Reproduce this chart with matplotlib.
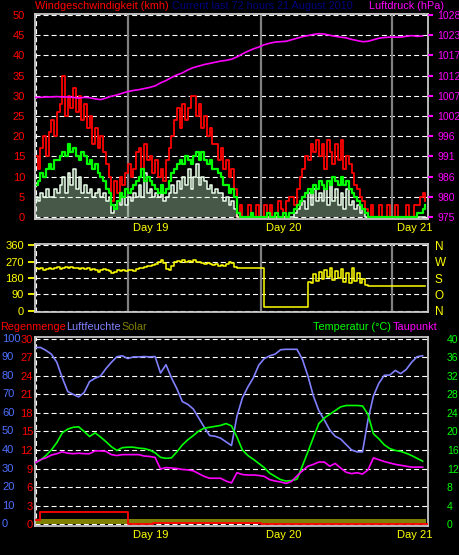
import numpy as np
import matplotlib
matplotlib.use("Agg")
import matplotlib.pyplot as plt
from matplotlib import transforms

plt.rcParams['font.family'] = ['Liberation Sans', 'DejaVu Sans']
plt.rcParams['font.size'] = 7.5
plt.rcParams['lines.scale_dashes'] = False

# ---- wind, every 30 min (kmh), hour 0 = start of the 72 h window
gust = [15, 12, 17, 20, 15, 21, 24, 20, 26, 28, 35, 25,
        30, 27, 32, 26, 30, 24, 28, 22, 25, 18, 22, 17,
        20, 16, 13, 10, 4, 9, 6, 10, 8, 11, 13, 10,
        12, 16, 17, 12, 18, 14, 15, 11, 14, 10, 12, 9,
        14, 17, 20, 24, 27, 22, 28, 24, 27, 30, 30, 25,
        28, 22, 25, 20, 22, 18, 18, 14, 17, 12, 14, 10,
        12, 7, 0, 3, 0, 0, 3, 0, 0, 3, 0, 0,
        3, 0, 3, 0, 0, 4, 2, 0, 4, 5, 5, 3,
        7, 10, 12, 15, 14, 18, 16, 19, 15, 18, 12, 19,
        16, 13, 18, 14, 19, 12, 15, 13, 11, 8, 7, 5,
        4, 2, 0, 3, 0, 0, 3, 0, 0, 3, 0, 0,
        3, 0, 0, 0, 3, 0, 0, 3, 3, 5, 6, 4]
avg = [8, 9, 11, 10, 12, 13, 12, 14, 14, 15, 16, 15,
       18, 16, 17, 15, 14, 16, 15, 13, 14, 12, 13, 11,
       10, 9, 7, 6, 3, 2, 4, 6, 5, 7, 6, 7,
       8, 9, 10, 12, 9, 10, 9, 8, 7, 6, 8, 6,
       7, 9, 11, 12, 13, 14, 13, 15, 14, 13, 15, 16,
       14, 16, 14, 13, 14, 12, 12, 11, 10, 8, 8, 6,
       7, 5, 1, 0, 0, 0, 0, 1, 0, 0, 0, 0,
       0, 1, 0, 0, 1, 0, 0, 1, 0, 1, 1, 2,
       3, 4, 5, 6, 7, 6, 8, 7, 9, 8, 7, 9,
       8, 10, 9, 8, 10, 8, 9, 7, 6, 5, 4, 3,
       2, 1, 0, 0, 0, 0, 0, 0, 0, 0, 0, 0,
       0, 0, 0, 0, 0, 0, 0, 0, 1, 1, 2, 3]
speed = [5, 4, 6, 5, 7, 5, 5, 7, 6, 8, 10, 6,
         11, 8, 12, 7, 10, 6, 8, 6, 7, 5, 6, 7,
         5, 6, 4, 5, 1, 3, 4, 3, 5, 3, 5, 4,
         6, 5, 8, 5, 11, 6, 7, 5, 6, 5, 7, 4,
         5, 6, 8, 6, 9, 7, 10, 8, 12, 7, 10, 13,
         8, 10, 9, 7, 8, 6, 7, 6, 6, 4, 5, 3,
         4, 2, 0, 0, 0, 0, 0, 0, 0, 0, 0, 0,
         0, 0, 0, 0, 0, 0, 0, 0, 0, 0, 0, 1,
         2, 3, 4, 2, 6, 3, 7, 4, 6, 4, 7, 3,
         8, 4, 7, 3, 6, 2, 7, 3, 4, 2, 3, 1,
         2, 0, 0, 0, 0, 0, 0, 0, 0, 0, 0, 0,
         0, 0, 0, 0, 0, 0, 0, 0, 0, 0, 0, 0]
direction = [232, 228, 234, 226, 230, 236, 228, 233, 238, 231, 236, 240,
             234, 238, 233, 237, 231, 236, 229, 233, 226, 230, 222, 214,
             226, 230, 223, 218, 205, 212, 222, 216, 225, 220, 222, 226,
             218, 228, 232, 236, 238, 244, 246, 250, 258, 268, 280, 262,
             230, 226, 245, 268, 272, 270, 276, 268, 274, 270, 278, 266,
             270, 262, 258, 262, 254, 250, 256, 248, 252, 246, 258, 266,
             262, 242, 236, 236, 236, 236, 236, 236, 236, 236, 236, 236,
             20, 20, 20, 20, 20, 20, 20, 20, 20, 20, 20, 20,
             20, 20, 20, 20, 160, 150, 200, 165, 215, 175, 225, 185,
             235, 170, 220, 180, 230, 160, 210, 150, 235, 165, 205, 150,
             175, 140, 135, 135, 135, 135, 135, 135, 135, 135, 135, 135,
             135, 135, 135, 135, 135, 135, 135, 135, 135, 135, 135, 135]

# ---- hourly values
pressure = [1006.4, 1006.4, 1006.5, 1006.5, 1006.6, 1006.5, 1006.5, 1006.4, 1006.2, 1006.4,
            1006.3, 1006.0, 1005.8, 1006.2, 1006.7, 1007.0, 1007.5, 1007.9, 1008.2, 1008.4,
            1008.7, 1009.0, 1009.4, 1010.2, 1010.8, 1011.6, 1012.3, 1012.8, 1013.6, 1014.2,
            1014.6, 1015.0, 1015.3, 1015.6, 1015.9, 1016.1, 1016.4, 1017.0, 1017.8, 1018.5,
            1019.1, 1019.6, 1020.2, 1020.6, 1020.9, 1021.0, 1021.1, 1021.5, 1021.9, 1022.3,
            1022.6, 1022.9, 1023.1, 1023.0, 1022.7, 1022.4, 1022.2, 1022.0, 1021.6, 1021.3,
            1021.0, 1021.1, 1021.5, 1021.9, 1022.1, 1022.2, 1022.2, 1022.2, 1022.4, 1022.6,
            1022.4, 1022.5]
humidity = [95.3, 95.3, 93.7, 91.7, 87.3, 78.9, 71.5, 70.0, 68.6, 71.0,
            76.9, 78.7, 79.9, 83.9, 87.3, 90.3, 90.8, 89.3, 90.2, 90.2,
            90.4, 90.2, 90.4, 81.5, 86.0, 78.9, 73.0, 66.1, 64.6, 62.1,
            57.2, 52.3, 47.8, 47.4, 46.4, 44.4, 42.4, 58.2, 68.1, 74.0,
            78.9, 85.8, 89.3, 90.8, 91.7, 94.1, 94.3, 94.3, 94.3, 88.8,
            79.9, 69.1, 61.2, 56.2, 50.8, 47.4, 45.9, 42.9, 40.0, 39.0,
            39.0, 56.2, 69.1, 76.0, 80.3, 80.4, 82.9, 81.2, 83.4, 87.3,
            90.3, 90.8]
temperature = [13.2, 13.8, 14.8, 16.0, 17.6, 19.7, 20.5, 20.9, 21.0, 20.0,
               18.9, 19.7, 18.8, 17.8, 16.7, 15.9, 16.5, 16.6, 16.6, 16.4,
               16.3, 16.0, 15.4, 14.4, 14.2, 14.3, 15.6, 17.1, 18.2, 19.1,
               20.1, 20.7, 20.9, 21.1, 21.3, 21.7, 21.2, 18.8, 16.0, 14.8,
               14.0, 13.1, 12.2, 11.0, 10.3, 9.6, 9.3, 9.4, 9.7, 12.6,
               15.6, 18.7, 21.7, 22.9, 23.7, 24.5, 25.3, 25.6, 25.6, 25.6,
               25.5, 23.7, 19.5, 18.4, 17.1, 16.3, 15.9, 15.7, 15.3, 14.8,
               14.2, 13.6]
dewpoint = [13.2, 13.9, 14.3, 14.9, 15.2, 15.6, 15.3, 15.2, 15.3, 15.2,
            15.2, 15.8, 15.8, 15.7, 15.0, 14.8, 15.0, 15.0, 15.0, 15.0,
            14.7, 14.6, 14.4, 11.9, 12.2, 12.1, 12.0, 11.8, 11.7, 11.5,
            10.9, 10.3, 9.9, 9.9, 9.9, 9.3, 8.9, 11.1, 10.7, 10.6,
            10.6, 10.5, 10.3, 9.6, 9.3, 9.1, 8.8, 9.2, 10.4, 11.5,
            12.5, 12.9, 13.4, 13.4, 12.5, 13.1, 12.1, 11.2, 10.9, 11.1,
            10.8, 11.7, 14.3, 13.9, 13.5, 13.2, 12.9, 12.7, 12.5, 12.3,
            12.3, 12.3]

# daily rain sum (mm) and solar band
rain_hours = [0, 0.9, 17.0, 21.6, 41.4, 72]
rain = [0.6, 2.0, 0.0, 0.2, 0.0, 0.0]
solar_hours = [0, 71.6]
solar = [2.6, 2.6]

day_hours = [17.0, 41.4, 65.4]
day_labels = ['Day 19', 'Day 20', 'Day 21']
pressure_ticks = ['975', '980', '986', '991', '996', '1002', '1007', '1012', '1017', '1023', '1028']
compass = ['N', 'O', 'S', 'W', 'N']

t_half = np.arange(len(gust)) * 0.5
t_hour = np.arange(len(pressure))

W, H = 460, 555
DASH = (0, (3.6, 2.2))


def box(x0, y0, x1, y1):
    return [x0 / W, 1 - y1 / H, (x1 - x0) / W, (y1 - y0) / H]


def frame(ax, ylim, grid):
    ax.set_facecolor('black')
    ax.set_xlim(0, 72)
    ax.set_ylim(*ylim)
    ax.set_xticks([])
    for s in ax.spines.values():
        s.set_color('#c8c8c8')
        s.set_linewidth(1.3)
    for g in grid:
        ax.axhline(g, color='white', lw=0.8, ls=DASH, zorder=0.5)
    ax.axvline(0.27, color='white', lw=0.8, ls=DASH, zorder=0.5)


def twin(ax, ylim):
    tw = ax.twinx()
    tw.set_xlim(0, 72)
    tw.set_ylim(*ylim)
    for s in tw.spines.values():
        s.set_visible(False)
    return tw


def days(ax, lines=True, labels=True):
    tr = transforms.offset_copy(
        transforms.blended_transform_factory(ax.transData, ax.transAxes),
        fig=fig, x=5, y=-4, units='dots')
    for d, lab in zip(day_hours, day_labels):
        if lines:
            ax.axvline(d, color='#808080', lw=1.6, zorder=0.8)
        if labels:
            ax.text(d, 0, lab, transform=tr, color='yellow', ha='left', va='top', fontsize=8)


fig = plt.figure(figsize=(W / 100, H / 100), dpi=100, facecolor='black')

# ---------------- wind speed + pressure
ax1 = fig.add_axes(box(35, 14, 428, 218.7))
lim1 = (-0.42, 50.25)
frame(ax1, lim1, range(0, 51, 5))
days(ax1)
ax1.step(t_half, gust, where='post', color='#ff0000', lw=1.3)
ax1.fill_between(t_half, 0, speed, step='post', color='#d0ffd0', alpha=0.35, lw=0)
ax1.step(t_half, speed, where='post', color='#eaffea', lw=1.1)
ax1.step(t_half, avg, where='post', color='#00ff00', lw=1.6)
ax1.set_yticks(range(0, 51, 5))
ax1.tick_params(axis='y', length=0, pad=7.2, labelcolor='#ff0000', labelsize=8)

axp = twin(ax1, (975 + lim1[0] * 53 / 50, 975 + lim1[1] * 53 / 50))
axp.plot(t_hour, pressure, color='#ff00ff', lw=1.2)
axp.set_yticks(np.linspace(975, 1028, 11), pressure_ticks)
axp.tick_params(axis='y', length=3.6, width=1.5, color='#ff00ff', pad=3.2, labelcolor='#ff00ff')

# ---------------- wind direction
ax2 = fig.add_axes(box(35, 244, 428, 312))
frame(ax2, (-5.5, 365.5), [0, 90, 180, 270, 360])
days(ax2, labels=False)
ax2.step(t_half, direction, where='post', color='#ffff00', lw=1.1)
ax2.set_yticks([0, 90, 180, 270, 360])
ax2.tick_params(axis='y', length=5, width=1.3, color='#ffff00', pad=2.9, labelcolor='#ffff00', labelsize=8)
axc = twin(ax2, (-5.5, 365.5))
axc.set_yticks([0, 90, 180, 270, 360], compass)
axc.tick_params(axis='y', length=0, pad=5, labelcolor='#ffff00', labelsize=8.5)

# ---------------- rain, humidity, solar, temperature, dew point
ax3 = fig.add_axes(box(35, 336.7, 428, 526))
lim3 = (-1.0, 101.1)
frame(ax3, lim3, range(0, 101, 10))
days(ax3, lines=False)
ax3.fill_between(solar_hours, 0, solar, color='#808000', lw=0)
ax3.plot(t_hour, humidity, color='#8080ff', lw=1.2)
ax3.set_yticks([])
hum_tr = transforms.blended_transform_factory(fig.transFigure, ax3.transData)
for v in range(0, 101, 10):
    ax3.text(2 / W, v, str(v), transform=hum_tr, color='#4f6fff', ha='left', va='center', fontsize=8)

axr = twin(ax3, (lim3[0] * 0.3, lim3[1] * 0.3))
axr.yaxis.tick_left()
axr.step(rain_hours, rain, where='post', color='#ff0000', lw=1.3)
axr.set_yticks(range(0, 31, 3))
axr.tick_params(axis='y', length=0, pad=1.4, labelcolor='#ff0000', labelsize=8)

axt = twin(ax3, (lim3[0] * 0.4, lim3[1] * 0.4))
axt.plot(t_hour, temperature, color='#00ff00', lw=1.2)
axt.plot(t_hour, dewpoint, color='#ff00ff', lw=1.2)
axt.set_yticks(range(0, 41, 4))
axt.tick_params(axis='y', length=0, pad=13.5, labelcolor='#00ff00', labelsize=7.5)

# ---------------- headers
def head(x, y, s, c, ha='left'):
    fig.text(x / W, 1 - y / H, s, color=c, ha=ha, va='center', fontsize=7.8)

head(35, 6, 'Windgeschwindigkeit (kmh)', '#ff0000')
head(172, 6, 'Current last 72 hours 21 August 2010', '#000080')
head(444, 6, 'Luftdruck (hPa)', '#ff00ff', ha='right')
head(0, 327.5, 'Regenmenge', '#ff0000')
head(66, 327.5, 'Luftfeuchte', '#8080ff')
head(121, 327.5, 'Solar', '#808000')
head(313, 327.5, 'Temperatur (°C)', '#00ff00')
head(393, 327.5, 'Taupunkt', '#ff00ff')

fig.savefig('out.png', dpi=100, facecolor='black')
